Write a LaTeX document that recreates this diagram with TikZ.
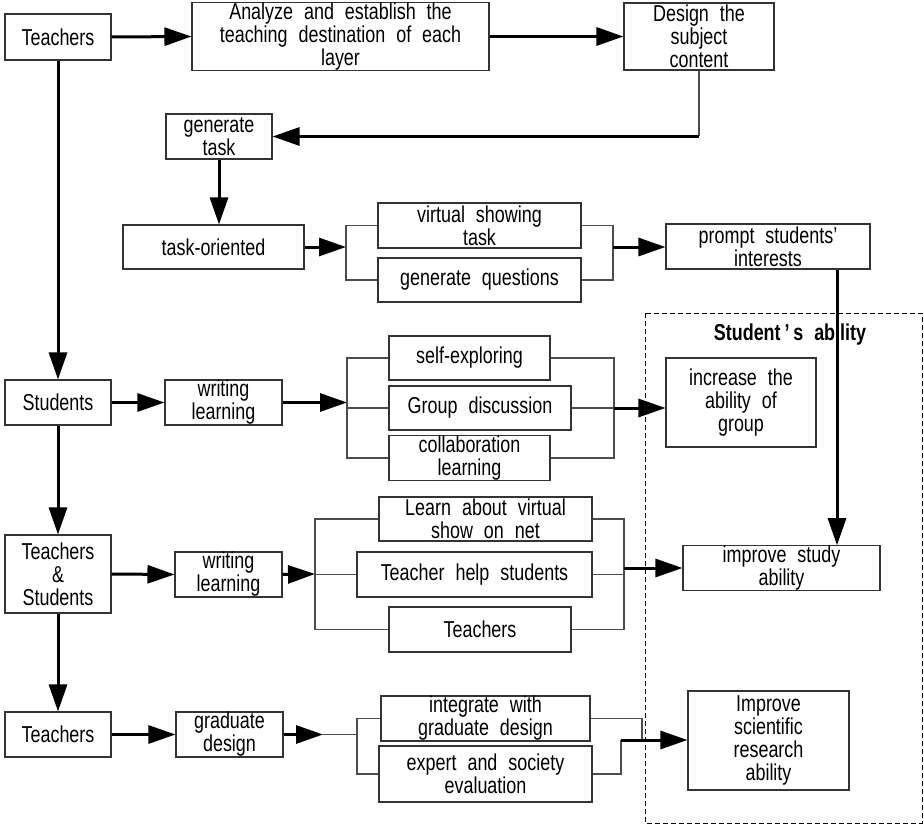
\documentclass[tikz,border=0pt]{standalone}
\usepackage{fontspec}
\setmainfont[FakeStretch=0.78,WordSpace=2.2]{Liberation Sans}
\usetikzlibrary{arrows.meta,calc}
% straight typewriter-style apostrophe
\newcommand{\apos}{\char39\relax}

\begin{document}
\begin{tikzpicture}[
  x=1pt, y=-1pt,
  font=\fontsize{23}{23}\selectfont,
  box/.style 2 args={draw=black!80, line width=1.1pt, align=center,
    inner sep=0pt, minimum width=#1, minimum height=#2},
  flow/.style={line width=3pt, -{Triangle[length=27pt,width=18pt]}},
  link/.style={line width=1.1pt, draw=black!70},
  ]
\useasboundingbox (0,0) rectangle (924,824);

% ---- teacher preparation row ----
\node[box={106}{46}] (t1)  at (58,37)     {Teachers};
\node[box={297}{67}] (ana) at (340.5,36.5) {Analyze and establish the\\teaching destination of each\\layer};
\node[box={150}{67}] (des) at (699,36.5)   {Design the\\subject\\content};
\node[box={106}{45}] (gen) at (219,136.5)  {generate\\task};
\node[box={181}{44}] (tor) at (213.5,247)  {task-oriented};
\node[box={203}{45}] (vst) at (479.5,225.5) {virtual showing\\task};
\node[box={203}{44}] (gq)  at (479.5,280)  {generate questions};
\node[box={204}{45}] (pr)  at (768,246.5)  {prompt students\apos\\interests};

% ---- ability frame ----
\draw[line width=0.9pt, dash pattern=on 5pt off 3pt] (645,313) rectangle (922,823);
\node[font=\fontsize{23}{23}\selectfont\bfseries] (ttl) at (790,335) {Student\,\apos\,s ability};
\node[box={150}{89}] (inc) at (741,402.5) {increase the\\ability of\\group};
\node[box={197}{44}] (isa) at (781.5,568) {improve study\\ability};
\node[box={161}{99}] (isr) at (768.5,740.5) {Improve\\scientific\\research\\ability};

% ---- students row ----
\node[box={106}{45}] (stu) at (58,402.5)   {Students};
\node[box={117}{45}] (wl1) at (223.5,402.5) {writing\\learning};
\node[box={161}{44}] (se)  at (469.5,358)  {self-exploring};
\node[box={182}{44}] (gd)  at (480,408)    {Group discussion};
\node[box={161}{44}] (cl)  at (469.5,458)  {collaboration\\learning};

% ---- teachers & students row ----
\node[box={106}{78}] (ts)  at (58,574)     {Teachers\\\&\\Students};
\node[box={107}{45}] (wl2) at (228.5,574.5) {writing\\learning};
\node[box={213}{44}] (lav) at (485.5,519)  {Learn about virtual\\show on net};
\node[box={235}{45}] (ths) at (474.5,574.5) {Teacher help students};
\node[box={182}{45}] (tch) at (480,629.5)  {Teachers};

% ---- graduate design row ----
\node[box={106}{45}] (t3)  at (58,734.5)   {Teachers};
\node[box={107}{45}] (gdz) at (229.5,734.5) {graduate\\design};
\node[box={209}{45}] (igd) at (485.5,718.5) {integrate with\\graduate design};
\node[box={213}{56}] (eas) at (485.5,774)  {expert and society\\evaluation};

% ---- junction points ----
\coordinate (j1) at (346,247);
\coordinate (j2) at (613,247);
\coordinate (j3) at (347,402.5);
\coordinate (j4) at (614,408);
\coordinate (j5) at (315,574);
\coordinate (j6) at (624,568);
\coordinate (j7) at (323,734.5);
\coordinate (j8) at (357,734.5);
\coordinate (j9) at (642,718.5);
\coordinate (j10) at (621,740);

% ---- main spine ----
\draw[flow] (t1.south) -- (stu.north);
\draw[flow] (stu.south) -- (ts.north);
\draw[flow] (ts.south) -- (t3.north);

% ---- top chain ----
\draw[flow] (t1.east) -- (ana.west);
\draw[flow] (ana.east) -- (des.west);
\draw[link] (des.south) -- (des.south |- gen.east);
\draw[flow] (des.south |- gen.east) -- (gen.east);
\draw[flow] (gen.south) -- (gen.south |- tor.north);

% ---- task branch ----
\draw[flow] (tor.east) -- (j1);
\draw[link] (vst.west) -| (j1) |- (gq.west);
\draw[link] (vst.east) -| (j2) |- (gq.east);
\draw[flow] (j2) -- (j2 -| pr.west);
\coordinate (drop) at ([xshift=69pt]pr.south);
\draw[flow] (drop) -- (drop |- isa.north);

% ---- students branch ----
\draw[flow] (stu.east) -- (wl1.west);
\draw[flow] (wl1.east) -- (j3);
\draw[link] (se.west) -| (j3 |- cl.west) -- (cl.west);
\draw[link] (j3 |- gd.west) -- (gd.west);
\draw[link] (se.east) -| (j4 |- cl.east) -- (cl.east);
\draw[link] (gd.east) -- (j4);
\draw[flow] (j4) -- (j4 -| inc.west);

% ---- teachers & students branch ----
\draw[flow] (ts.east) -- (wl2.west);
\draw[flow] (wl2.east) -- (j5);
\draw[link] (lav.west) -| (j5 |- tch.west) -- (tch.west);
\draw[link] (j5 |- ths.west) -- (ths.west);
\draw[link] (lav.east) -| (j6 |- tch.east) -- (tch.east);
\draw[link] (ths.east) -- (ths.east -| j6);
\draw[flow] (j6) -- (j6 -| isa.west);

% ---- graduate design branch ----
\draw[flow] (t3.east) -- (gdz.west);
\draw[flow] (gdz.east) -- (j7);
\draw[link] (j7) -- (j8);
\draw[link] (igd.west) -| (j8) |- (eas.west);
\draw[link] (igd.east) -- (j9) -- (j9 |- j10);
\draw[link] (eas.east) -| (j10);
\draw[flow] (j10) -- (j10 -| isr.west);
\end{tikzpicture}
\end{document}
